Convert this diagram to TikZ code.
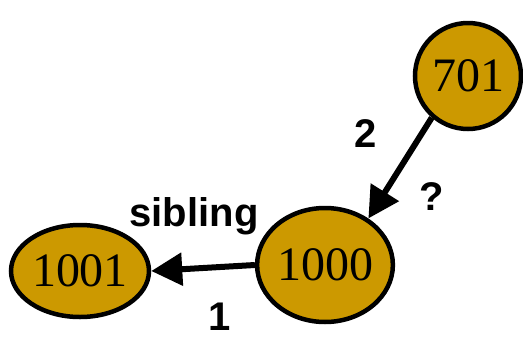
\documentclass[tikz,border=0pt]{standalone}
\usepackage{fontspec}
\setmainfont{Liberation Serif}
\setsansfont{Liberation Sans}
\usetikzlibrary{shapes.geometric,arrows.meta}
\definecolor{nodefill}{RGB}{204,153,0}
\tikzset{
  vertex/.style={ellipse, draw=black, line width=4.5pt, fill=nodefill,
    inner sep=0pt, font=\fontsize{48}{48}\selectfont},
  link/.style={line width=6pt, -{Triangle[length=31pt,width=32pt]}},
  edgelabel/.style={font=\sffamily\bfseries\fontsize{40}{40}\selectfont,
    inner sep=0pt, anchor=base}
}
\begin{document}
\begin{tikzpicture}[x=1pt,y=-1pt]
  \useasboundingbox (0,0) rectangle (523,338);
  \fill[white] (0,0) rectangle (523,338);

  % vertices
  \node[vertex, minimum width=106pt, minimum height=106pt] (n701)  at (468,76)  {701};
  \node[vertex, minimum width=108pt, minimum height=114pt] (n1000) at (325,265) {1000};
  \node[vertex, minimum width=138pt, minimum height=92pt]  (n1001) at (80,271)  {1001};

  % edges
  \draw[link] (n701.229) -- (n1000.47);
  \draw[link] (n1000.west) -- (n1001.east);

  % edge labels
  \node[edgelabel] (l2)   at (366,147) {2};
  \node[edgelabel] (lq)   at (432,210) {?};
  \node[edgelabel] (lsib) at (194,226) {sibling};
  \node[edgelabel] (l1)   at (220,330) {1};
\end{tikzpicture}
\end{document}
